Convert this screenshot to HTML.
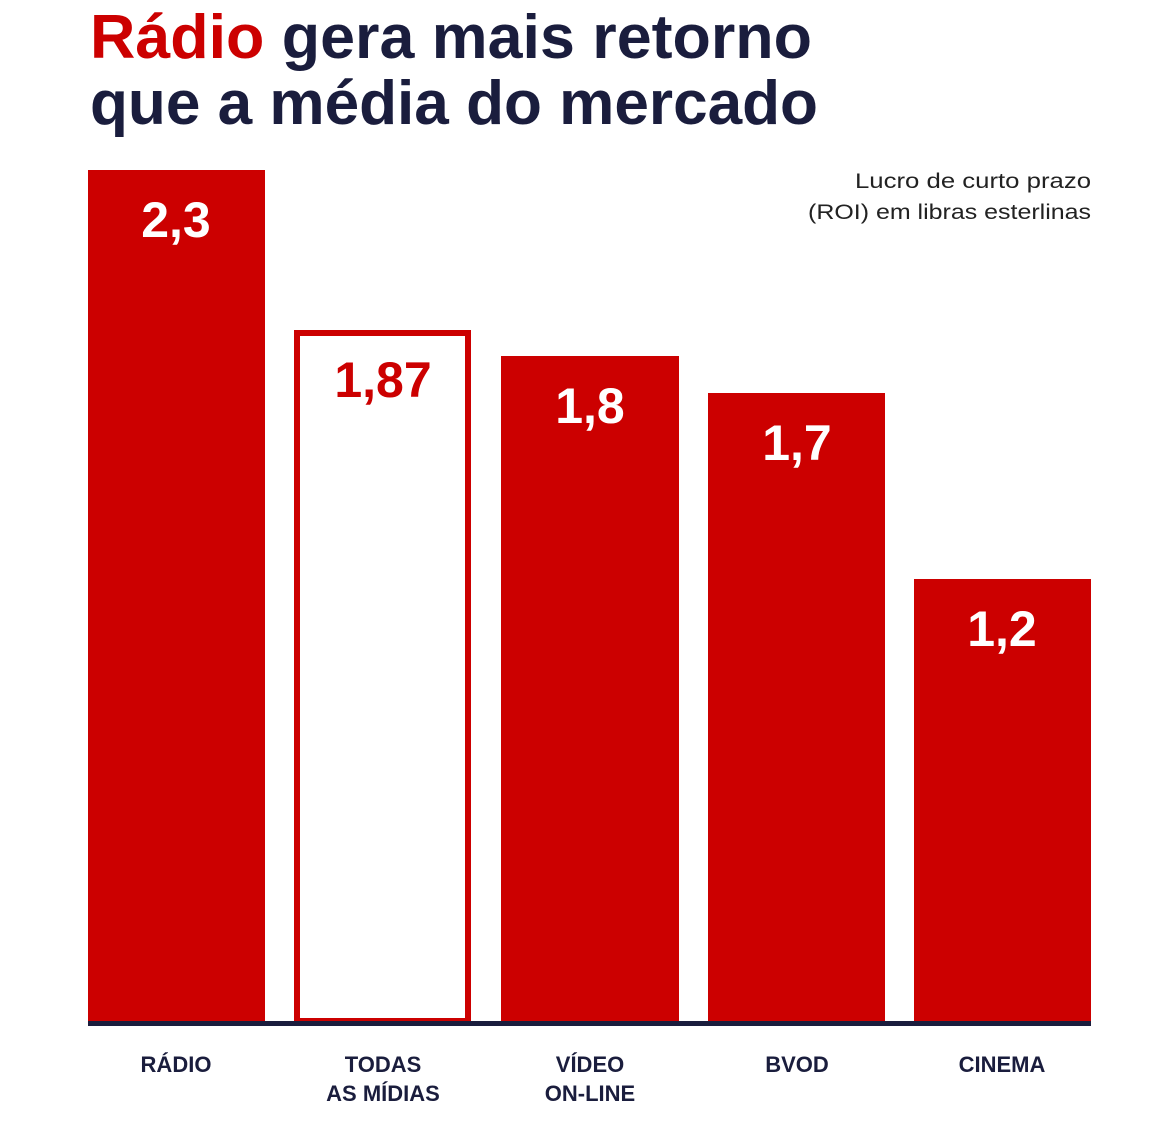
<!DOCTYPE html>
<html><head><meta charset="utf-8"><style>html,body{margin:0;padding:0;background:#fff;}svg{display:block}</style></head>
<body>
<svg width="1166" height="1148" viewBox="0 0 1166 1148" xmlns="http://www.w3.org/2000/svg" font-family="Liberation Sans, sans-serif">
<text x="90" y="58" font-size="62" font-weight="bold" fill="#1a1d3d" textLength="722" lengthAdjust="spacingAndGlyphs"><tspan fill="#cc0000">Rádio</tspan> gera mais retorno</text>
<text x="90" y="124" font-size="62" font-weight="bold" fill="#1a1d3d" textLength="728" lengthAdjust="spacingAndGlyphs">que a média do mercado</text>
<text x="855" y="188" font-size="21" fill="#222" textLength="236" lengthAdjust="spacingAndGlyphs">Lucro de curto prazo</text>
<text x="808" y="219" font-size="21" fill="#222" textLength="283" lengthAdjust="spacingAndGlyphs">(ROI) em libras esterlinas</text>
<rect x="88" y="170" width="177" height="854" fill="#cc0000"/>
<rect x="297" y="333" width="171" height="688" fill="#fff" stroke="#cc0000" stroke-width="6"/>
<rect x="501" y="356" width="178" height="668" fill="#cc0000"/>
<rect x="708" y="393" width="177" height="631" fill="#cc0000"/>
<rect x="914" y="579" width="177" height="445" fill="#cc0000"/>
<rect x="88" y="1021" width="1003" height="5" fill="#1a1d3d"/>
<g font-size="50" font-weight="bold" text-anchor="middle" fill="#fff">
<text x="176" y="237">2,3</text>
<text x="383" y="397" fill="#cc0000">1,87</text>
<text x="590" y="423">1,8</text>
<text x="797" y="460">1,7</text>
<text x="1002" y="646">1,2</text>
</g>
<g font-size="22" font-weight="bold" text-anchor="middle" fill="#1a1d3d">
<text x="176" y="1072">RÁDIO</text>
<text x="383" y="1072">TODAS</text>
<text x="383" y="1101">AS MÍDIAS</text>
<text x="590" y="1072">VÍDEO</text>
<text x="590" y="1101">ON-LINE</text>
<text x="797" y="1072">BVOD</text>
<text x="1002" y="1072">CINEMA</text>
</g>
</svg>
</body></html>
